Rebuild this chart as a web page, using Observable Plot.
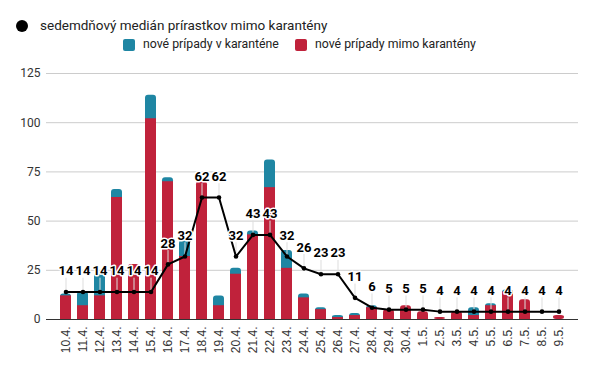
<!DOCTYPE html>
<html>
<head>
<meta charset="utf-8">
<script src="https://cdn.jsdelivr.net/npm/d3@7"></script>
<script src="https://cdn.jsdelivr.net/npm/@observablehq/plot@0.6"></script>
<style>
  html, body { margin: 0; padding: 0; background: #fff; }
  #wrap { width: 600px; height: 371px; position: relative; overflow: hidden; }
  #legend { position: relative; width: 600px; height: 60px; font-family: Roboto, sans-serif; color: #222; }
  .it { position: absolute; white-space: nowrap; }
  .r1 { font-size: 13.5px; }
  .r2 { font-size: 12.3px; }
  .sw { position: absolute; width: 12px; height: 12px; border-radius: 2px; }
  #chart svg { display: block; }
</style>
</head>
<body>
<div id="wrap">
  <div id="legend"></div>
  <div id="chart"></div>
</div>
<script>
const dates = ["10.4.","11.4.","12.4.","13.4.","14.4.","15.4.","16.4.","17.4.","18.4.","19.4.","20.4.","21.4.","22.4.","23.4.","24.4.","25.4.","26.4.","27.4.","28.4.","29.4.","30.4.","1.5.","2.5.","3.5.","4.5.","5.5.","6.5.","7.5.","8.5.","9.5."];
const outsideQuarantine = [12,7,12,62,28,102,70,32,70,7,23,43,67,26,11,5,1,2,6,5,7,4,1,4,2,7,14,10,0,2];
const inQuarantine =      [1,7,11,4,0,12,2,8,0,5,3,2,14,9,2,1,1,1,1,0,0,0,0,0,4,1,1,0,0,0];
const median7 = [14,14,14,14,14,14,28,32,62,62,32,43,43,32,26,23,23,11,6,5,5,5,4,4,4,4,4,4,4,4];
const yTicks = [0,25,50,75,100,125];

const seriesNames = ["sedemdňový medián prírastkov mimo karantény", "nové prípady v karanténe", "nové prípady mimo karantény"];
const RED = "#c0223b", BLUE = "#1f86a3";

// legend
const legend = document.getElementById("legend");
legend.innerHTML = `
  <div class="sw" style="left:16px;top:20px;border-radius:50%;background:#000"></div>
  <div class="it r1" style="left:40px;top:17px">${seriesNames[0]}</div>
  <div class="sw" style="left:123px;top:39px;background:${BLUE}"></div>
  <div class="it r2" style="left:143px;top:37px">${seriesNames[1]}</div>
  <div class="sw" style="left:295px;top:39px;background:${RED}"></div>
  <div class="it r2" style="left:315px;top:37px">${seriesNames[2]}</div>
`;

const data = dates.map((d, i) => ({
  date: d,
  red: outsideQuarantine[i],
  blue: inQuarantine[i],
  total: outsideQuarantine[i] + inQuarantine[i],
  median: median7[i]
}));

const chart = Plot.plot({
  width: 600,
  height: 311,
  marginTop: 13,
  marginBottom: 52,
  marginLeft: 46,
  marginRight: 22,
  style: { fontFamily: "Roboto, sans-serif", fontSize: "12px", color: "#333", background: "#fff" },
  x: { domain: dates, paddingInner: 0.35, paddingOuter: 0.3, label: null },
  y: { domain: [0, 125], label: null },
  marks: [
    Plot.gridY(yTicks, { stroke: "#ccc", strokeOpacity: 1 }),
    Plot.axisY(yTicks, { tickSize: 0, tickPadding: 6, fontSize: 12, fill: "#333", label: null }),
    Plot.axisX({ tickSize: 0, tickPadding: 7, tickRotate: -90, fontFamily: "'Liberation Sans', Arial, sans-serif", fontSize: 12, fill: "#333", label: null }),
    // stacked bars: rounded top segment, square lower segment
    Plot.barY(data, { x: "date", y1: 0, y2: "total", fill: d => d.blue > 0 ? BLUE : RED, rx: 3 }),
    Plot.barY(data, { x: "date", y1: 0, y2: d => d.blue > 0 ? d.red : Math.max(0, d.red - 2), fill: RED }),
    Plot.ruleY([0], { stroke: "#333" }),
    Plot.ruleX(data, { x: "date", y1: "median", y2: d => d.median + 7, stroke: "#ddd", strokeWidth: 1 }),
    Plot.line(data, { x: "date", y: "median", stroke: "#000", strokeWidth: 2 }),
    Plot.dot(data, { x: "date", y: "median", r: 2.3, fill: "#000" }),
    Plot.text(data, { x: "date", y: "median", text: d => String(d.median), dy: -21, fontSize: 13, fontWeight: "bold", fill: "#000", stroke: "#fff", strokeWidth: 3, fontFamily: "Roboto, sans-serif" })
  ]
});
document.getElementById("chart").appendChild(chart);
</script>
</body>
</html>
